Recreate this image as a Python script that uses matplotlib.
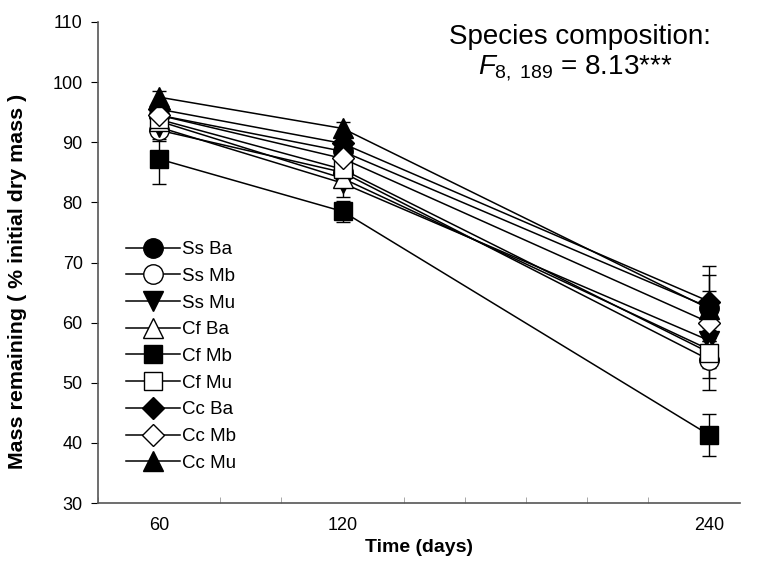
import matplotlib
matplotlib.use("Agg")
import matplotlib.pyplot as plt
from matplotlib.lines import Line2D
import numpy as np

days = [60, 120, 240]
labels = ["Ss Ba", "Ss Mb", "Ss Mu", "Cf Ba", "Cf Mb", "Cf Mu", "Cc Ba", "Cc Mb", "Cc Mu"]

ss_ba = [94.5, 88.5, 62.5]
ss_mb = [92.0, 85.0, 53.8]
ss_mu = [92.5, 83.2, 57.0]
cf_ba = [93.5, 84.0, 55.5]
cf_mb = [87.2, 78.5, 41.3]
cf_mu = [93.8, 85.5, 55.0]
cc_ba = [95.5, 89.8, 63.5]
cc_mb = [94.5, 87.3, 60.0]
cc_mu = [97.5, 92.3, 62.3]

ss_ba_se = [1.5, 1.5, 5.5]
ss_mb_se = [1.8, 1.5, 5.0]
ss_mu_se = [2.0, 2.3, 3.0]
cf_ba_se = [1.5, 1.5, 3.0]
cf_mb_se = [4.2, 1.8, 3.5]
cf_mu_se = [1.5, 1.0, 4.2]
cc_ba_se = [1.2, 1.2, 6.0]
cc_mb_se = [1.5, 1.5, 3.0]
cc_mu_se = [1.0, 1.0, 3.0]

series = [ss_ba, ss_mb, ss_mu, cf_ba, cf_mb, cf_mu, cc_ba, cc_mb, cc_mu]
errors = [ss_ba_se, ss_mb_se, ss_mu_se, cf_ba_se, cf_mb_se, cf_mu_se, cc_ba_se, cc_mb_se, cc_mu_se]

styles = [
    ("o", "black", 14),
    ("o", "white", 14),
    ("v", "black", 14),
    ("^", "white", 14),
    ("s", "black", 12.5),
    ("s", "white", 12.5),
    ("D", "black", 11),
    ("D", "white", 11),
    ("^", "black", 14),
]

plt.rcParams['font.family'] = ['Liberation Sans', 'DejaVu Sans']
plt.rcParams['mathtext.fontset'] = 'custom'
plt.rcParams['mathtext.rm'] = 'Liberation Sans'
plt.rcParams['mathtext.it'] = 'Liberation Sans:italic'

fig = plt.figure(figsize=(7.58, 5.66), dpi=100)
ax = fig.add_axes([98/758, 1 - 503/566, (740-98)/758, (503-22)/566])

handles = []
for vals, err, lab, (m, fc, ms) in zip(series, errors, labels, styles):
    ax.errorbar(days, vals, yerr=err, color="black", lw=1.1, elinewidth=1.0,
                capsize=5, capthick=1.0, marker=m, markerfacecolor=fc,
                markeredgecolor="black", markeredgewidth=1.0, markersize=ms)
    handles.append(Line2D([], [], color="black", lw=1.1, marker=m, markerfacecolor=fc,
                          markeredgecolor="black", markeredgewidth=1.0, markersize=ms,
                          label=lab))

ax.set_xlim(40, 250)
ax.set_ylim(30, 110)
ax.set_xticks(days)
ax.set_xticks(np.arange(40, 250, 20), minor=True)
ax.tick_params(axis="x", which="minor", direction="in", length=4, color="#999999")
ax.tick_params(axis="x", which="major", length=0, labelsize=13, pad=10)
ax.set_yticks(np.arange(30, 111, 10))
ax.tick_params(axis="y", which="major", direction="out", length=5, labelsize=13, pad=6)
for s in ["top", "right"]:
    ax.spines[s].set_visible(False)
for s in ["left", "bottom"]:
    ax.spines[s].set_color("#555555")
    ax.spines[s].set_linewidth(1.2)

ax.set_xlabel("Time (days)", fontsize=14, fontweight="bold", labelpad=4)
ax.set_ylabel("Mass remaining ( % initial dry mass )", fontsize=15.4, fontweight="bold",
              va="center")
ax.yaxis.set_label_coords(-0.125, 0.46)

ax.text(0.75, 0.968, "Species composition:", transform=ax.transAxes,
        ha="center", va="center", fontsize=20)
ax.text(0.743, 0.905, r"$F_{8,\ 189}$ = 8.13***", transform=ax.transAxes,
        ha="center", va="center", fontsize=20)

leg = ax.legend(handles=handles, loc="upper left", bbox_to_anchor=(0.032, 0.56), frameon=False,
                fontsize=13.5, handlelength=2.9, labelspacing=0.51, handletextpad=0.1,
                borderaxespad=0)

fig.savefig("out.png", dpi=100)
